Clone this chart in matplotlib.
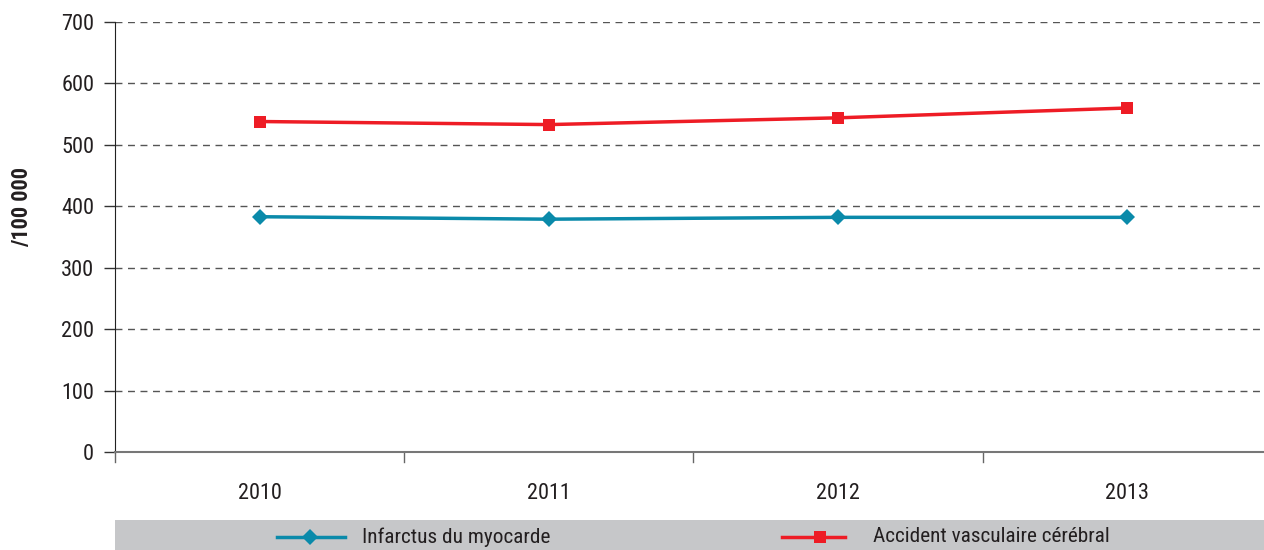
import matplotlib.pyplot as plt
from matplotlib.lines import Line2D
from matplotlib.patches import Rectangle

years = ["2010", "2011", "2012", "2013"]
infarctus = [383, 379, 382, 382]
avc = [538, 533, 544, 560]
y_ticks = [0, 100, 200, 300, 400, 500, 600, 700]

BLUE = "#0a8aaa"
RED = "#ee1c25"
TEXT = "#231f20"

plt.rcParams["font.family"] = ["Roboto Condensed", "DejaVu Sans"]

fig = plt.figure(figsize=(12.64, 5.5), dpi=100)
ax = fig.add_axes([115 / 1264, 1 - 452 / 550, 1 - 115 / 1264, 430 / 550])

x = list(range(len(years)))
ax.plot(x, infarctus, color=BLUE, lw=2.5, marker="D", ms=8, mew=0, zorder=3)
ax.plot(x, avc, color=RED, lw=2.5, marker="s", ms=9, mew=0, zorder=3)

ax.set_xlim(-0.5, 3.5 - 8 / 289.5)
ax.set_ylim(0, 700)
ax.set_yticks(y_ticks)
ax.set_yticklabels([str(v) for v in y_ticks], fontsize=16, color=TEXT)
ax.set_xticks(x)
ax.set_xticklabels(years, fontsize=16, color=TEXT)
ax.tick_params(axis="x", length=0, pad=22)
ax.tick_params(axis="y", length=8, width=1, color="#333333", pad=7)
# boundary ticks between categories
for b in [-0.5, 0.5, 1.5, 2.5]:
    ax.plot([b, b], [0, -0.023], transform=ax.get_xaxis_transform(),
            color="#666666", lw=1, clip_on=False)

for v in y_ticks[1:]:
    ax.axhline(v, color="#555555", lw=1, ls=(0, (5, 4)), zorder=1)

for side in ["top", "right"]:
    ax.spines[side].set_visible(False)
ax.spines["left"].set_color("#222222")
ax.spines["bottom"].set_color("#777777")
ax.spines["bottom"].set_linewidth(1.5)

ax.set_ylabel("/100 000", fontsize=16, fontweight="bold", color=TEXT)
ax.yaxis.set_label_coords(-82 / 1149, 0.57)

# legend band
fig.patches.append(Rectangle((115 / 1264, 0), 1 - 115 / 1264, 30 / 550,
                             transform=fig.transFigure, facecolor="#c6c7c9",
                             edgecolor="none", zorder=0))
legend_y = 1 - 537 / 550
fig.add_artist(Line2D([277 / 1264, 345 / 1264], [legend_y, legend_y], color=BLUE, lw=2.5))
fig.add_artist(Line2D([310 / 1264], [legend_y], color=BLUE, marker="D", ms=8, mew=0))
fig.text(362 / 1264, legend_y, "Infarctus du myocarde", fontsize=15.3, va="center", color=TEXT)
fig.add_artist(Line2D([782 / 1264, 845 / 1264], [legend_y, legend_y], color=RED, lw=2.5))
fig.add_artist(Line2D([820 / 1264], [legend_y], color=RED, marker="s", ms=8, mew=0))
fig.text(873 / 1264, legend_y, "Accident vasculaire cérébral", fontsize=15.3, va="center", color=TEXT)

fig.savefig("out.png", dpi=100)
